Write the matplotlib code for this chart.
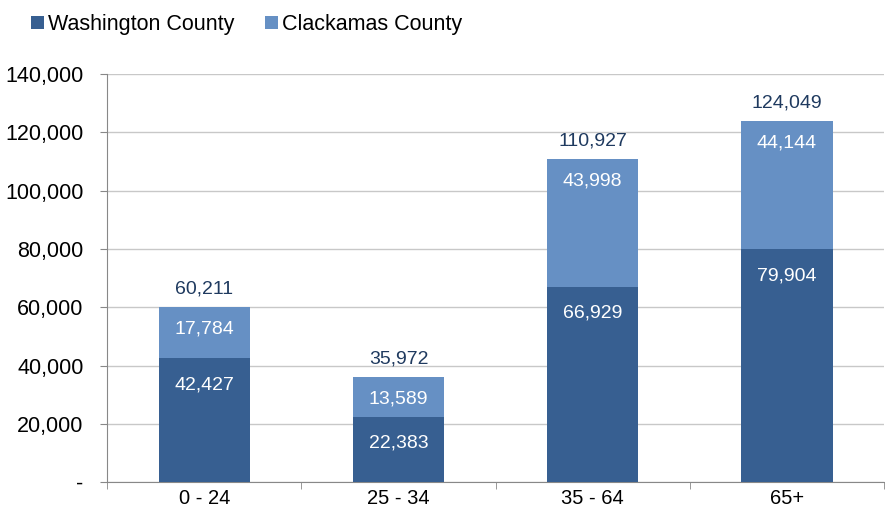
import matplotlib.pyplot as plt
import numpy as np

plt.rcParams["font.family"] = ["Liberation Sans", "DejaVu Sans"]

categories = ["0 - 24", "25 - 34", "35 - 64", "65+"]
washington = [42427, 22383, 66929, 79904]
clackamas = [17784, 13589, 43998, 44144]
totals = [60211, 35972, 110927, 124049]

dark = "#375F91"
light = "#6690C4"
label_blue = "#1F3A5F"

fig = plt.figure(figsize=(8.85, 5.15), dpi=100)
ax = fig.add_axes([0.121, 0.064, 0.878, 0.792])

x = np.arange(len(categories))
b1 = ax.bar(x, washington, width=0.47, color=dark, zorder=3, label="Washington County")
b2 = ax.bar(x, clackamas, width=0.47, bottom=washington, color=light, zorder=3, label="Clackamas County")

for i in range(len(categories)):
    ax.annotate(f"{washington[i]:,}", (x[i], washington[i]), xytext=(0, -19),
                textcoords="offset points", ha="center", va="center", color="white", fontsize=14)
    top = washington[i] + clackamas[i]
    ax.annotate(f"{clackamas[i]:,}", (x[i], top), xytext=(0, -16),
                textcoords="offset points", ha="center", va="center", color="white", fontsize=14)
    ax.annotate(f"{totals[i]:,}", (x[i], top), xytext=(0, 13),
                textcoords="offset points", ha="center", va="center", color=label_blue, fontsize=14)

ax.set_xlim(-0.5, len(categories) - 0.5)
ax.set_ylim(0, 140000)
yt = np.arange(0, 140001, 20000)
ax.set_yticks(yt)
ax.set_yticklabels(["-"] + [f"{v:,}" for v in yt[1:]], fontsize=15.5)
ax.set_xticks(x)
ax.set_xticklabels(categories, fontsize=14.5)
ax.set_xticks(np.arange(-0.5, len(categories)), minor=True)
ax.tick_params(axis="x", which="major", length=0, pad=5)
ax.tick_params(axis="x", which="minor", length=5, color="#888888")
ax.tick_params(axis="y", length=5, color="#888888", pad=12)

ax.grid(axis="y", color="#C8C8C8", linewidth=1, zorder=0)
for s in ["top", "right"]:
    ax.spines[s].set_visible(False)
ax.spines["left"].set_color("#888888")
ax.spines["bottom"].set_color("#888888")

fig.legend(handles=[b1, b2], loc="upper left", bbox_to_anchor=(0.013, 1.01), ncol=2, frameon=False,
           fontsize=15.5, handlelength=0.6, handleheight=0.6, handletextpad=0.2, columnspacing=1.4)

plt.savefig("out.png", dpi=100)
